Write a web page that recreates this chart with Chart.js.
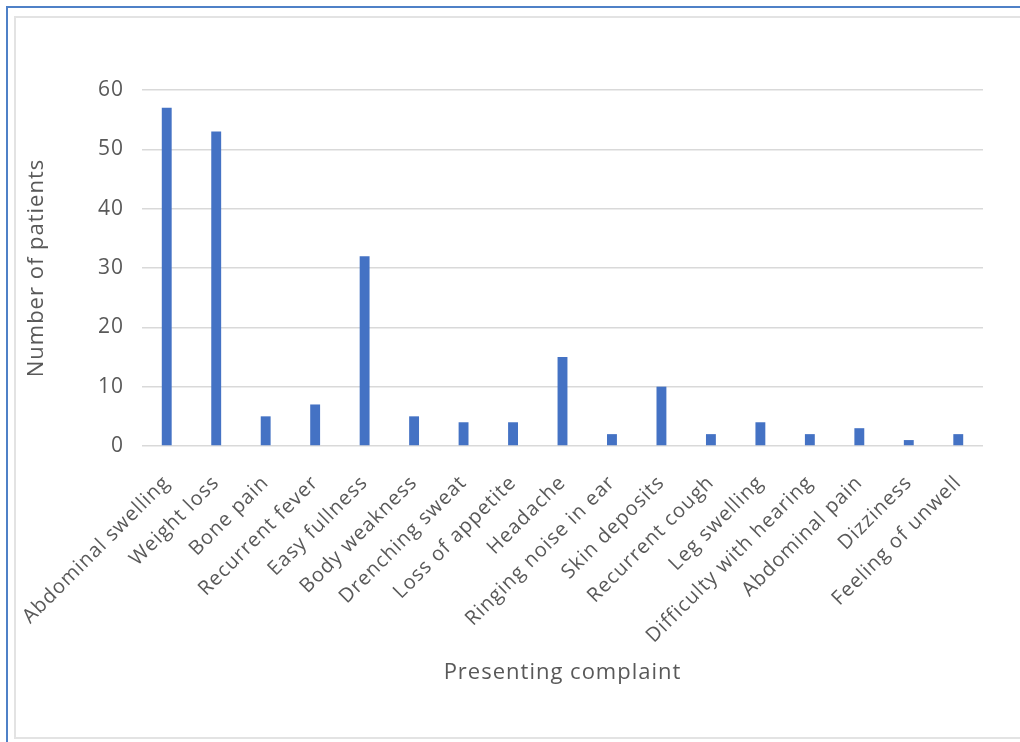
<!DOCTYPE html>
<html>
<head>
<meta charset="utf-8">
<script src="https://cdn.jsdelivr.net/npm/chart.js@4"></script>
<style>
  body { margin: 0; background: #fff; overflow: hidden; }
  #outer { position: absolute; left: 6px; top: 6px; width: 1100px; height: 800px;
           border-left: 2px solid #4f81c7; border-top: 2px solid #4f81c7; }
  #inner { position: absolute; left: 14px; top: 16px; width: 1100px; height: 719px;
           border-left: 2px solid #e3e3e3; border-top: 2px solid #e3e3e3; border-bottom: 2px solid #e3e3e3; }
  #chartBox { position: absolute; left: 16px; top: 18px; }
</style>
</head>
<body>
<div id="outer"></div>
<div id="inner"></div>
<div id="chartBox"><canvas id="complaintChart" width="1004" height="716"></canvas></div>
<script>
// Datos del gráfico
const complaints = [
    "Abdominal swelling", "Weight loss", "Bone pain", "Recurrent fever", "Easy fullness",
    "Body weakness", "Drenching sweat", "Loss of appetite", "Headache", "Ringing noise in ear",
    "Skin deposits", "Recurrent cough", "Leg swelling", "Difficulty with hearing",
    "Abdominal pain", "Dizziness", "Feeling of unwell"
];
const patients = [57, 53, 5, 7, 32, 5, 4, 4, 15, 2, 10, 2, 4, 2, 3, 1, 2];
const yTicks = [0, 10, 20, 30, 40, 50, 60];

const textColor = '#595959';
const fontFamily = '"Open Sans", "Liberation Sans", sans-serif';

// Espaciado de letras parecido al original
const spacingPlugin = {
    id: 'spacing',
    beforeUpdate(chart) { chart.ctx.letterSpacing = '1px'; },
    beforeDraw(chart) { chart.ctx.letterSpacing = '1px'; }
};

const ctx = document.getElementById('complaintChart').getContext('2d');
const complaintChart = new Chart(ctx, {
    type: 'bar',
    data: {
        labels: complaints,
        datasets: [{
            label: 'Number of patients',
            data: patients,
            backgroundColor: '#4472c4',
            borderWidth: 0,
            barPercentage: 0.2,
            categoryPercentage: 1
        }]
    },
    options: {
        responsive: false,
        animation: false,
        layout: { padding: { top: 72, right: 37, bottom: 0, left: 0 } },
        plugins: {
            legend: { display: false },
            tooltip: { enabled: false }
        },
        scales: {
            x: {
                grid: { display: false },
                border: { display: false },
                ticks: {
                    autoSkip: false,
                    minRotation: 45,
                    maxRotation: 45,
                    padding: 17,
                    color: textColor,
                    font: { family: fontFamily, size: 20 }
                },
                title: {
                    display: true,
                    text: 'Presenting complaint',
                    color: textColor,
                    font: { family: fontFamily, size: 22 },
                    padding: { top: 0, bottom: 48 }
                },
                afterFit(scale) {
                    scale.height = 288;
                    scale.paddingLeft = 0;
                    scale.paddingRight = 0;
                }
            },
            y: {
                min: 0,
                max: 60,
                afterBuildTicks(scale) { scale.ticks = yTicks.map(v => ({ value: v })); },
                grid: { color: '#d9d9d9', lineWidth: 1.5, drawTicks: false },
                border: { display: false },
                ticks: {
                    padding: 18,
                    color: textColor,
                    font: { family: fontFamily, size: 21 }
                },
                title: {
                    display: true,
                    text: 'Number of patients',
                    color: textColor,
                    font: { family: fontFamily, size: 22 },
                    padding: { top: 8, bottom: 0 }
                },
                afterFit(scale) { scale.width = 126; }
            }
        }
    },
    plugins: [spacingPlugin]
});
</script>
</body>
</html>
